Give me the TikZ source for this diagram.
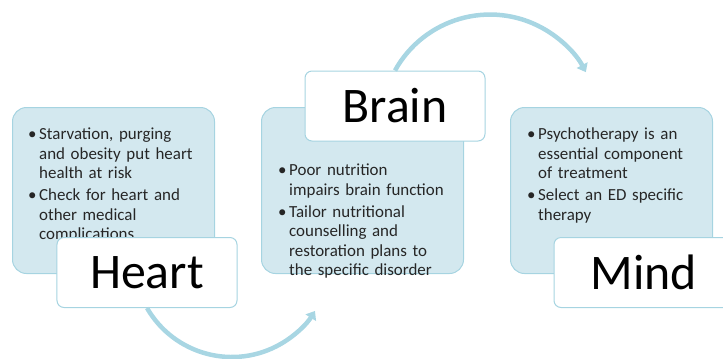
\documentclass[tikz,border=0pt]{standalone}
\usepackage{fontspec}
\setmainfont{Carlito}
\usetikzlibrary{arrows.meta}
\definecolor{boxfill}{HTML}{D3E8EF}
\definecolor{boxline}{HTML}{A6D4E1}
\definecolor{arcblue}{HTML}{A8D6E3}
\definecolor{txtgray}{HTML}{262626}
% bullet list with hanging indent
\newenvironment{blist}{\begin{list}{\textbullet\hfill}{%
    \setlength{\leftmargin}{11bp}\setlength{\labelwidth}{11bp}%
    \setlength{\labelsep}{0pt}\setlength{\itemsep}{3bp}%
    \setlength{\parsep}{0pt}\setlength{\topsep}{0pt}\setlength{\itemindent}{0pt}}}%
  {\end{list}}

\begin{document}
\begin{tikzpicture}[x=1bp, y=-1bp,
  txtbox/.style={draw=boxline, fill=boxfill, line width=1bp, rounded corners=14bp,
    anchor=north west, minimum width=202bp, minimum height=166bp, inner sep=0pt},
  lblbox/.style={draw=boxline, fill=white, line width=1bp, rounded corners=7bp,
    minimum width=180bp, minimum height=70bp, font=\fontsize{50}{56}\selectfont},
  bullets/.style={anchor=north west, inner sep=0pt, text width=200bp, align=left,
    text=txtgray, font=\fontsize{17}{19.5}\selectfont},
  flow/.style={draw=arcblue, line width=4.5bp, -{Triangle[width=12bp,length=8bp]}}]
  \clip (0,0) rectangle (723,358);
  % Heart
  \node[txtbox] (heartbox) at (12,107) {};
  \node[bullets] (hearttxt) at (28,120) {\begin{blist}
    \item Starvation, purging\newline and obesity put heart\newline health at risk
    \item Check for heart and\newline other medical\newline complications
  \end{blist}};
  \node[lblbox] (heartlbl) at (147,272.5) {Heart};
  % Brain
  \node[txtbox] (brainbox) at (261,107) {};
  \node[bullets] (braintxt) at (278,156) {\begin{blist}
    \item Poor nutrition\newline impairs brain function
    \item Tailor nutritional\newline counselling and\newline restoration plans to\newline the specific disorder
  \end{blist}};
  \node[lblbox] (brainlbl) at (395,106) {Brain};
  % Mind
  \node[txtbox] (mindbox) at (510,107) {};
  \node[bullets] (mindtxt) at (527,120) {\begin{blist}
    \item Psychotherapy is an\newline essential component\newline of treatment
    \item Select an ED specific\newline therapy
  \end{blist}};
  \node[lblbox] (mindlbl) at (644,272.5) {Mind};
  % arcs between stages
  \draw[flow] (heartlbl.south) arc[start angle=150, end angle=32, radius=98];
  \draw[flow] (brainlbl.north) arc[start angle=209, end angle=332, radius=108.6];
\end{tikzpicture}
\end{document}
